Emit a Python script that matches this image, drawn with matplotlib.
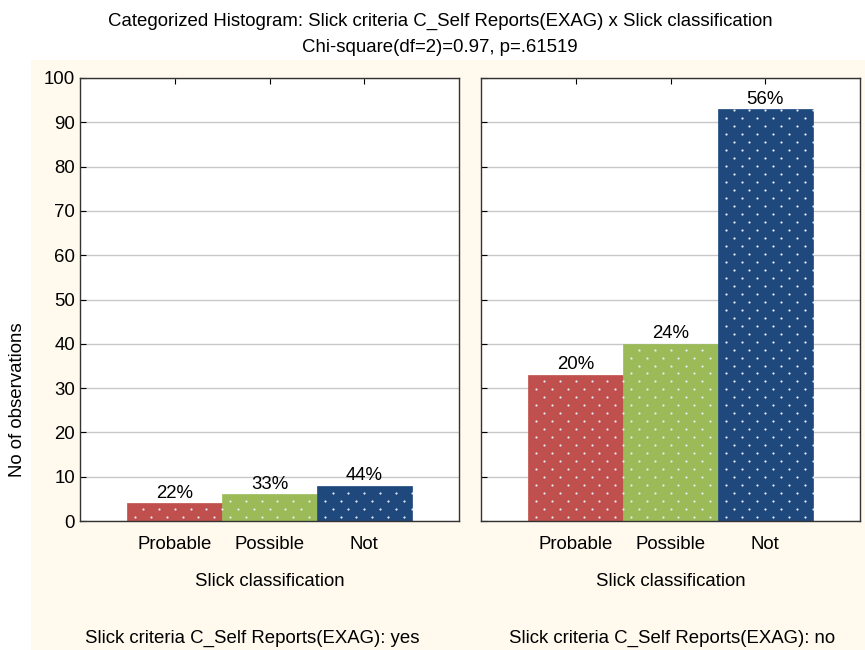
import numpy as np
import matplotlib
matplotlib.use('Agg')
import matplotlib.pyplot as plt
from matplotlib.patches import Rectangle

plt.rcParams['font.family'] = ['Liberation Sans', 'DejaVu Sans']

categories = ['Probable', 'Possible', 'Not']
counts_yes = [4, 6, 8]
counts_no = [33, 40, 93]
pct_yes = ['22%', '33%', '44%']
pct_no = ['20%', '24%', '56%']
panel_titles = ['Slick criteria C_Self Reports(EXAG): yes',
                'Slick criteria C_Self Reports(EXAG): no']
colors = ['#C0504D', '#9BBB59', '#1F497D']

FS = 13.4
W, H = 865, 650
fig = plt.figure(figsize=(W / 100, H / 100), dpi=100, facecolor='white')
# cream panel behind the plots
fig.patches.append(Rectangle((31 / W, 0), 1 - 31 / W, 1 - 60 / H,
                             transform=fig.transFigure, facecolor='#FFF9EE',
                             edgecolor='none', zorder=-10))

fig.text(440 / W, 1 - 21 / H,
         'Categorized Histogram: Slick criteria C_Self Reports(EXAG) x Slick classification',
         ha='center', va='center', fontsize=FS)
fig.text(440 / W, 1 - 47 / H, 'Chi-square(df=2)=0.97, p=.61519',
         ha='center', va='center', fontsize=FS)
fig.text(18 / W, 1 - 400 / H, 'No of observations', rotation=90,
         ha='center', va='center', fontsize=FS)

x = np.arange(1, len(categories) + 1)
lefts = [80, 481]
title_x = [85, 509]
for i, (vals, pcts) in enumerate([(counts_yes, pct_yes), (counts_no, pct_no)]):
    ax = fig.add_axes([lefts[i] / W, 1 - 521 / H, 379 / W, 443 / H])
    ax.set_facecolor('white')
    bars = ax.bar(x, vals, width=1.0, color=colors, edgecolor=colors,
                  linewidth=0.5, zorder=2)
    # white dot texture
    for b in bars:
        x0, w, h = b.get_x(), b.get_width(), b.get_height()
        ys = np.arange(0.9, h, 1.8)
        px, py = [], []
        for k, yy in enumerate(ys):
            off = 1 / 12 if k % 2 == 0 else 1 / 6
            xs = np.arange(x0 + off, x0 + w, 1 / 6)
            px.extend(xs)
            py.extend([yy] * len(xs))
        ax.scatter(px, py, s=2.5, color='#E8ECF4', linewidths=0, zorder=3)
    for xi, v, p in zip(x, vals, pcts):
        ax.text(xi, v + 0.3, p, ha='center', va='bottom', fontsize=FS)
    ax.set_xlim(0, 4)
    ax.set_ylim(0, 100)
    ax.set_yticks(np.arange(0, 101, 10))
    ax.set_xticks(x)
    ax.set_xticklabels(categories, fontsize=FS)
    ax.grid(axis='y', color='#C8C8C8', linewidth=1, zorder=0)
    ax.set_axisbelow(True)
    ax.tick_params(axis='x', direction='in', top=True, length=4, pad=11)
    ax.tick_params(axis='y', direction='in', length=4, labelsize=FS)
    if i == 1:
        ax.tick_params(axis='y', labelleft=False)
    for s in ax.spines.values():
        s.set_color('#333333')
        s.set_linewidth(1)
    ax.set_xlabel('Slick classification', fontsize=FS, labelpad=14)
    fig.text(title_x[i] / W, 1 - 638 / H, panel_titles[i],
             ha='left', va='center', fontsize=FS)

fig.savefig('out.png', dpi=100, facecolor=fig.get_facecolor())
